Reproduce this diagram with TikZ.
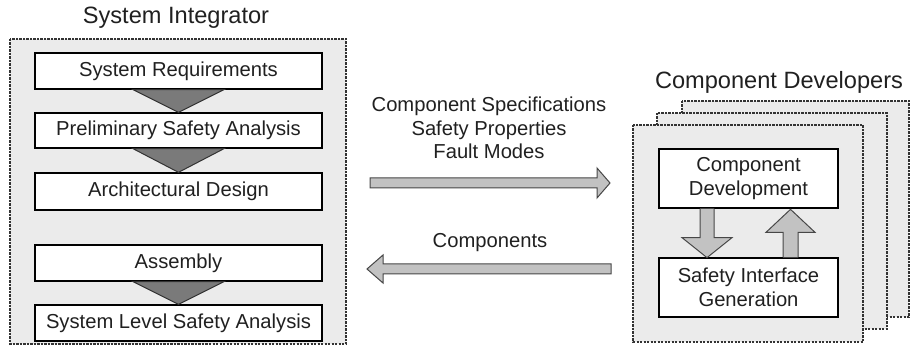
\documentclass[tikz,border=0pt]{standalone}
\usepackage{fontspec}
\setmainfont{Liberation Sans}
\definecolor{txt}{HTML}{202020}
\definecolor{panel}{HTML}{EBEBEB}
\definecolor{tri}{HTML}{7A7A7A}
\definecolor{fat}{HTML}{C2C2C2}
\definecolor{edge}{HTML}{333333}
\begin{document}
\begin{tikzpicture}[x=1pt,y=-1pt,
  panelbox/.style={draw=edge,fill=panel,line width=1.2pt,dash pattern=on 2.2pt off 1.3pt},
  stepbox/.style={draw=black,fill=white,line width=1.3pt,inner sep=0pt,text=txt,
    font=\fontsize{20.2}{23.5}\selectfont,align=center},
  trishape/.style={draw=edge,fill=tri,line width=1pt,line join=miter},
  fatarrow/.style={draw=edge!90,fill=fat,line width=1pt,line join=miter},
  titletext/.style={text=txt,font=\fontsize{23.6}{27}\selectfont,inner sep=0pt},
  labeltext/.style={text=txt,font=\fontsize{20.2}{23.5}\selectfont,align=center,inner sep=0pt}]
\useasboundingbox (0,0) rectangle (910,355);

% ---- System integrator ----
\node[titletext] (sititle) at (176,18) {System Integrator};
\draw[panelbox] (10,39) rectangle (346,344);
\node[stepbox,minimum width=287pt,minimum height=36pt] (b1) at (178.5,71) {System Requirements};
\node[stepbox,minimum width=287pt,minimum height=35pt] (b2) at (178.5,130.5) {Preliminary Safety Analysis};
\node[stepbox,minimum width=287pt,minimum height=37pt] (b3) at (178.5,191.5) {Architectural Design};
\node[stepbox,minimum width=287pt,minimum height=36pt] (b4) at (178.5,263) {Assembly};
\node[stepbox,minimum width=287pt,minimum height=36pt] (b5) at (178.5,323) {System Level Safety Analysis};

\draw[trishape] ([xshift=-45.5pt]b1.south) -- ([xshift=45.5pt]b1.south) -- (b2.north) -- cycle;
\draw[trishape] ([xshift=-45.5pt]b2.south) -- ([xshift=45.5pt]b2.south) -- (b3.north) -- cycle;
\draw[trishape] ([xshift=-45.5pt]b4.south) -- ([xshift=45.5pt]b4.south) -- (b5.north) -- cycle;

% ---- middle ----
\node[labeltext] (spec) at (489,128) {Component Specifications\\Safety Properties\\Fault Modes};
\node[labeltext] (comps) at (490,243) {Components};

\coordinate (ra) at (370,183);
\coordinate (rb) at (610,183);
\draw[fatarrow] ([yshift=-5pt]ra) -- ([xshift=-13pt,yshift=-5pt]rb) -- ([xshift=-13pt,yshift=-15pt]rb)
  -- (rb) -- ([xshift=-13pt,yshift=15pt]rb) -- ([xshift=-13pt,yshift=5pt]rb) -- ([yshift=5pt]ra) -- cycle;

\coordinate (la) at (611,269);
\coordinate (lb) at (367,269);
\draw[fatarrow] ([yshift=-5pt]la) -- ([xshift=16pt,yshift=-5pt]lb) -- ([xshift=16pt,yshift=-14pt]lb)
  -- (lb) -- ([xshift=16pt,yshift=14pt]lb) -- ([xshift=16pt,yshift=5pt]lb) -- ([yshift=5pt]la) -- cycle;

% ---- Component developers ----
\node[titletext] (cdtitle) at (779,82) {Component Developers};
\draw[panelbox] (682,101) rectangle (909,317);
\draw[panelbox] (657,113) rectangle (887,329);
\draw[panelbox] (633,125) rectangle (863,342);

\node[stepbox,minimum width=179pt,minimum height=59pt] (cd) at (748.5,178.5) {Component\\Development};
\node[stepbox,minimum width=179pt,minimum height=59pt] (sig) at (748.5,287.5) {Safety Interface\\Generation};

% down arrow (from cd to sig)
\coordinate (da) at (cd.south -| 707,0);
\draw[fatarrow] ([xshift=-7pt]da) -- ([xshift=-7pt,yshift=-29pt]da) -- ([xshift=-25pt,yshift=-29pt]da)
  -- ([yshift=-49pt]da) -- ([xshift=25pt,yshift=-29pt]da) -- ([xshift=7pt,yshift=-29pt]da) -- ([xshift=7pt]da);
% up arrow (from sig to cd)
\coordinate (ua) at (sig.north -| 790.5,0);
\draw[fatarrow] ([xshift=-7.5pt]ua) -- ([xshift=-7.5pt,yshift=25pt]ua) -- ([xshift=-24.5pt,yshift=25pt]ua)
  -- ([yshift=48pt]ua) -- ([xshift=24.5pt,yshift=25pt]ua) -- ([xshift=7.5pt,yshift=25pt]ua) -- ([xshift=7.5pt]ua);
\end{tikzpicture}
\end{document}
